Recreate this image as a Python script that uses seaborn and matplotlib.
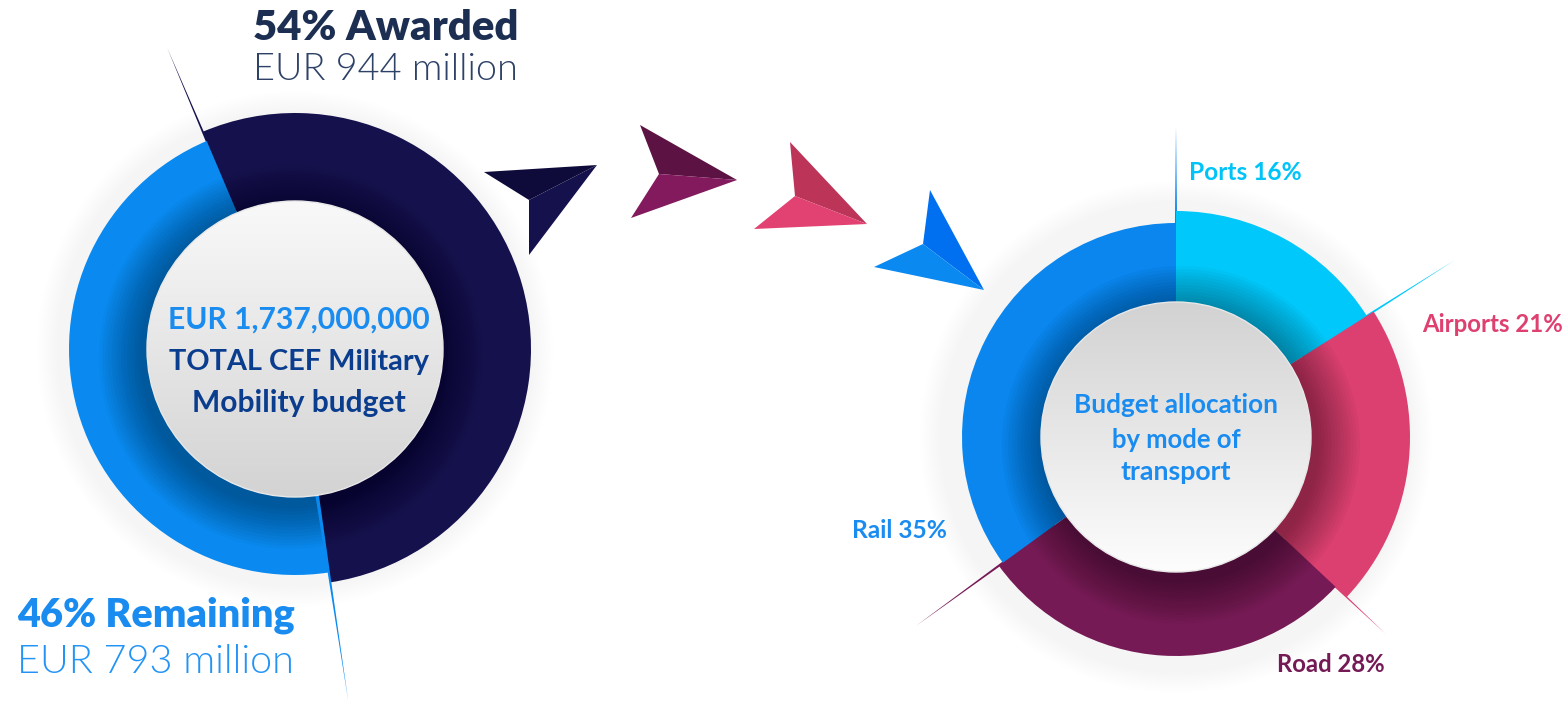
import numpy as np
import pandas as pd
import matplotlib
matplotlib.use("Agg")
import matplotlib.pyplot as plt
from matplotlib.patches import Circle, Polygon
import seaborn as sns

# Données
budget_labels = ["Awarded", "Remaining"]
budget_shares = [54, 46]
budget_amounts = [944, 793]  # EUR million
budget_total = 1_737_000_000

modes = ["Ports", "Airports", "Road", "Rail"]
mode_shares = [16, 21, 28, 35]

# Mise en page (pixels, origine en haut à gauche)
W, H = 1568, 705
centre_budget = (295, 349)
centre_modes = (1176, 437)

budget_colors = ["#15114d", "#0a8af0"]
mode_colors = ["#00c8fa", "#dc4070", "#761a55", "#0a86ee"]


def Y(y):
    return H - y


def dessiner_anneau(ax, centre, valeurs, couleurs, rayons, r_int, angle_depart,
                    decalage_ombre=(4, -8)):
    """Anneau dont chaque part a son propre rayon extérieur."""
    c = (centre[0], Y(centre[1]))
    wedges, _ = ax.pie(
        valeurs,
        colors=couleurs,
        startangle=angle_depart,
        counterclock=False,
        center=c,
        radius=max(rayons),
        frame=True,
        wedgeprops=dict(width=max(rayons) - r_int, linewidth=0),
    )
    for w, r in zip(wedges, rayons):
        w.set_radius(r)
        w.set_width(r - r_int + 6)
        w.set_zorder(2)

    # halo extérieur léger
    for k in range(10):
        ax.add_patch(Circle(c, max(rayons) + 22 * (k + 1) / 10, color="black",
                            alpha=0.005, lw=0, zorder=1))
    # ombre portée sous le disque central
    for k in range(14):
        ax.add_patch(Circle((c[0] + decalage_ombre[0], c[1] + decalage_ombre[1]),
                            r_int + 44 * (1 - k / 14),
                            color="black", alpha=0.028, lw=0, zorder=3))
    return wedges


def disque_central(ax, centre, rayon, haut, bas):
    c = (centre[0], Y(centre[1]))
    t = np.linspace(0, 1, 256)[:, None]
    c_haut = np.array(matplotlib.colors.to_rgb(haut))
    c_bas = np.array(matplotlib.colors.to_rgb(bas))
    grad = c_bas[None, None, :] * (1 - t[..., None]) + c_haut[None, None, :] * t[..., None]
    grad = np.repeat(grad, 2, axis=1)
    img = ax.imshow(grad, origin="lower", interpolation="bilinear",
                    extent=(c[0] - rayon, c[0] + rayon, c[1] - rayon, c[1] + rayon),
                    zorder=5)
    clip = Circle(c, rayon, transform=ax.transData, facecolor="none", lw=0)
    ax.add_patch(clip)
    img.set_clip_path(clip)
    ax.add_patch(Circle(c, rayon, facecolor="none", edgecolor="#e8e8e8", lw=1.0, zorder=6))


def trait_effile(ax, centre, angle, r0, r1, couleur, largeur=1.8, zorder=1.5):
    a = np.deg2rad(angle)
    d = np.array([np.cos(a), np.sin(a)])
    n = np.array([-d[1], d[0]])
    c = np.array([centre[0], Y(centre[1])])
    p0 = c + d * r0
    pts = [p0 + n * largeur, c + d * r1, p0 - n * largeur]
    ax.add_patch(Polygon(pts, closed=True, facecolor=couleur, lw=0, zorder=zorder))


def ajuster_largeur(fig, texte, largeur_px):
    renderer = fig.canvas.get_renderer()
    bb = texte.get_window_extent(renderer=renderer)
    texte.set_fontsize(texte.get_fontsize() * largeur_px / bb.width)


sns.set_theme(style="white")
plt.rcParams["font.family"] = ["Lato", "DejaVu Sans"]

fig = plt.figure(figsize=(W / 100, H / 100), dpi=100)
ax = fig.add_axes([0, 0, 1, 1])

# Anneau gauche : budget attribué / restant
depart_budget = 113
dessiner_anneau(ax, centre_budget, budget_shares, budget_colors,
                rayons=[236, 226], r_int=148, angle_depart=depart_budget,
                decalage_ombre=(-4, -8))
bornes = depart_budget - 360 * np.cumsum([0] + budget_shares[:-1]) / 100
trait_effile(ax, centre_budget, bornes[0], 150, 327, budget_colors[0])
trait_effile(ax, centre_budget, bornes[1], 148, 356, budget_colors[1], zorder=4)
disque_central(ax, centre_budget, 148, "#f9f9f9", "#d3d3d3")

# Anneau droit : répartition par mode
depart_modes = 90
dessiner_anneau(ax, centre_modes, mode_shares, mode_colors,
                rayons=[226, 234, 219, 214], r_int=135, angle_depart=depart_modes,
                decalage_ombre=(5, -8))
bornes = depart_modes - 360 * np.cumsum([0] + mode_shares[:-1]) / 100
couleurs_traits = [mode_colors[3], mode_colors[0], mode_colors[1], mode_colors[2]]
longueurs = [310, 330, 287, 321]
for b, coul, lg in zip(bornes, couleurs_traits, longueurs):
    trait_effile(ax, centre_modes, b, 150, lg, coul)
disque_central(ax, centre_modes, 135, "#d2d2d2", "#fdfdfd")

# Flèches décoratives (deux facettes chacune)
fleches = [
    [[(484, 172), (597, 165), (529, 200)], [(529, 200), (597, 165), (529, 255)],
     "#0e0b3a", "#14114c"],
    [[(640, 125), (737, 180), (659, 174)], [(659, 174), (737, 180), (631, 218)],
     "#5c1242", "#821a5d"],
    [[(790, 142), (867, 224), (795, 196)], [(795, 196), (867, 224), (754, 229)],
     "#bc3558", "#e24272"],
    [[(930, 190), (984, 290), (923, 244)], [(923, 244), (984, 290), (874, 267)],
     "#0070f0", "#0a8af0"],
]
for haut, bas, c_haut, c_bas in fleches:
    for pts, coul in ((haut, c_haut), (bas, c_bas)):
        ax.add_patch(Polygon([(x, Y(y)) for x, y in pts], closed=True,
                             facecolor=coul, lw=0, zorder=4))

# Textes de l'anneau gauche
textes = []
t = ax.text(253, Y(28), f"{budget_shares[0]}% {budget_labels[0]}", color="#1c2f52",
            fontsize=30, fontweight="heavy", va="center", ha="left", zorder=8)
textes.append((t, 265))
t = ax.text(253, Y(70), f"EUR {budget_amounts[0]} million", color="#2e4166",
            fontsize=30, fontweight=300, va="center", ha="left", zorder=8)
textes.append((t, 265))
t = ax.text(17, Y(615), f"{budget_shares[1]}% {budget_labels[1]}", color="#1a8cf0",
            fontsize=30, fontweight="heavy", va="center", ha="left", zorder=8)
textes.append((t, 277))
t = ax.text(17, Y(662), f"EUR {budget_amounts[1]} million", color="#2394f5",
            fontsize=30, fontweight=300, va="center", ha="left", zorder=8)
textes.append((t, 277))

cx = centre_budget[0] + 4
t = ax.text(cx, Y(320), f"EUR {budget_total:,}", color="#1a8cf0",
            fontsize=20, fontweight="bold", ha="center", va="center", zorder=8)
textes.append((t, 264))
t = ax.text(cx, Y(362), "TOTAL CEF Military", color="#0b3d8e",
            fontsize=20, fontweight="bold", ha="center", va="center", zorder=8)
textes.append((t, 260))
t = ax.text(cx, Y(403), "Mobility budget", color="#0b3d8e",
            fontsize=20, fontweight="bold", ha="center", va="center", zorder=8)
textes.append((t, 214))

# Textes de l'anneau droit
cx = centre_modes[0]
for ligne, yy, lg in (("Budget allocation", 405, 204), ("by mode of", 440, 129),
                      ("transport", 472, 111)):
    t = ax.text(cx, Y(yy), ligne, color="#1a8cf0", fontsize=18, fontweight="bold",
                ha="center", va="center", zorder=8)
    textes.append((t, lg))

positions_labels = {"Ports": (1189, 173, 113), "Airports": (1422, 324, 141),
                    "Road": (1277, 664, 108), "Rail": (852, 530, 95)}
couleurs_labels = ["#00c4f8", "#de4070", "#741a55", "#1a8cf0"]
for mode, part, coul in zip(modes, mode_shares, couleurs_labels):
    x, y, lg = positions_labels[mode]
    t = ax.text(x, Y(y), f"{mode} {part}%", color=coul, fontsize=16,
                fontweight="bold", ha="left", va="center", zorder=8)
    textes.append((t, lg))

ax.set_xlim(0, W)
ax.set_ylim(0, H)
ax.set_aspect("auto")
ax.axis("off")

fig.canvas.draw()
for t, lg in textes:
    ajuster_largeur(fig, t, lg)

fig.savefig("out.png", dpi=100, facecolor="white")
